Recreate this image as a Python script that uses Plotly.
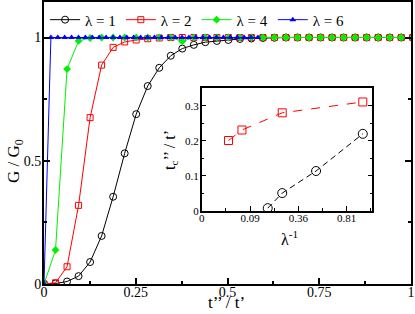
import plotly.graph_objects as go

# ---------------- data ----------------
step_main = 0.0314          # sampling of t''/t' for lambda = 1, 2, 4
step_blue = 0.0188          # sampling of t''/t' for lambda = 6
t_main = [round(k * step_main, 4) for k in range(33)]
t_blue = [round(k * step_blue, 4) for k in range(32)]

g_l1 = [0, 0.002, 0.010, 0.032, 0.089, 0.195, 0.354, 0.530, 0.689, 0.803,
        0.877, 0.926, 0.955, 0.970, 0.981, 0.986, 0.990, 0.994, 0.996, 0.998,
        0.999, 1, 1, 1, 1, 1, 1, 1, 1, 1, 1, 1, 1]
g_l2 = [0, 0.005, 0.070, 0.319, 0.675, 0.888, 0.960, 0.982, 0.990, 0.995,
        0.998, 1, 1, 1, 1, 1, 1, 1, 1, 1, 1, 1, 1, 1, 1, 1, 1, 1, 1, 1, 1, 1, 1]
g_l4 = [0, 0.138, 0.872, 0.986, 0.998, 1, 1, 1, 1, 1, 1, 1, 0.984, 1, 1, 1,
        1, 1, 1, 1, 1, 1, 1, 1, 1, 1, 1, 1, 1, 1, 1, 1, 1]
g_l6 = [0] + [1] * 31

legend_names = ["λ = 1", "λ = 2", "λ = 4", "λ = 6"]

# inset
inv_lambda = [1/6, 1/4, 1/2, 1.0]
tc_red = [0.201, 0.231, 0.280, 0.311]
x_black = [0.41, 0.50, 0.71, 1.0]
tc_black = [0.008, 0.051, 0.114, 0.220]

main_xticks = [0, 0.25, 0.5, 0.75, 1]
main_xtext = ["0", "0.25", "0.5", "0.75", "1"]
main_yticks = [0, 0.5, 1]
main_ytext = ["0", "0.5", "1"]
inset_xticks = [0, 0.3, 0.6, 0.9]
inset_xtext = ["0", "0.09", "0.36", "0.81"]
inset_yticks = [0, 0.1, 0.2, 0.3]
inset_ytext = ["0", "0.1", "0.2", "0.3"]

FONT = "Liberation Serif"
GREEN = "#00f000"


def f(size):
    return dict(family=FONT, size=size, color="black")


fig = go.Figure()
fig.add_trace(go.Scatter(x=t_main, y=g_l1, name=legend_names[0], mode="lines+markers",
                         line=dict(color="black", width=1),
                         marker=dict(symbol="circle-open", size=7, color="black", line=dict(width=1))))
fig.add_trace(go.Scatter(x=t_main, y=g_l2, name=legend_names[1], mode="lines+markers",
                         line=dict(color="#ff0000", width=1),
                         marker=dict(symbol="square-open", size=6, color="#ff0000", line=dict(width=1))))
fig.add_trace(go.Scatter(x=t_main, y=g_l4, name=legend_names[2], mode="lines+markers",
                         line=dict(color=GREEN, width=1),
                         marker=dict(symbol="diamond", size=6, color=GREEN)))
fig.add_trace(go.Scatter(x=t_blue, y=g_l6, name=legend_names[3], mode="lines+markers",
                         line=dict(color="#0000ff", width=1),
                         marker=dict(symbol="triangle-up", size=6, color="#0000ff")))

fig.add_trace(go.Scatter(x=inv_lambda, y=tc_red, xaxis="x2", yaxis="y2", showlegend=False,
                         mode="lines+markers", line=dict(color="#ff0000", width=1, dash="dash"),
                         marker=dict(symbol="square-open", size=8, color="#ff0000", line=dict(width=1))))
fig.add_trace(go.Scatter(x=x_black, y=tc_black, xaxis="x2", yaxis="y2", showlegend=False,
                         mode="lines+markers", line=dict(color="black", width=1, dash="6px,4px"),
                         marker=dict(symbol="circle-open", size=9, color="black", line=dict(width=1))))

axis_common = dict(showline=True, linecolor="black", ticks="inside", tickcolor="black",
                   showgrid=False, zeroline=False, automargin=False)

annotations = [
    dict(text="t’’ / t’", x=0.4986, y=-30 / 282, xref="paper", yref="paper",
         showarrow=False, font=f(17), xanchor="center", yanchor="bottom"),
    dict(text="G / G<sub>0</sub>", x=-0.079, y=0.436, xref="paper", yref="paper",
         showarrow=False, font=f(17), textangle=-90, xanchor="center", yanchor="middle"),
    dict(text="λ<sup>-1</sup>", x=0.670, y=0.163, xref="paper", yref="paper",
         showarrow=False, font=f(16), xanchor="center", yanchor="middle"),
    dict(text="t<sub>c</sub>’’ / t’", x=0.343, y=0.475, xref="paper", yref="paper",
         showarrow=False, font=f(16), textangle=-90, xanchor="center", yanchor="middle"),
]

fig.update_layout(
    width=415, height=314,
    margin=dict(l=44, r=4, t=2, b=30),
    paper_bgcolor="white", plot_bgcolor="white",
    font=f(14),
    xaxis=dict(**axis_common, range=[0, 1], linewidth=2, mirror=True, ticklen=6, tickwidth=1.5,
               tickvals=main_xticks, ticktext=main_xtext, tickfont=f(14), ticklabelstandoff=-6,
               minor=dict(ticks="inside", dtick=0.125, ticklen=3, tickcolor="black")),
    yaxis=dict(**axis_common, range=[0, 1.144], linewidth=2, mirror="ticks", ticklen=6, tickwidth=1.5,
               tickvals=main_yticks, ticktext=main_ytext, tickfont=f(14), ticklabelstandoff=-2,
               minor=dict(ticks="inside", dtick=0.25, ticklen=3, tickcolor="black")),
    xaxis2=dict(**axis_common, domain=[0.4296, 0.895], anchor="y2", range=[0, 1.06],
                linewidth=1.5, mirror=True, ticklen=5, tickvals=inset_xticks, ticktext=inset_xtext,
                tickfont=f(11), ticklabelstandoff=-4,
                minor=dict(ticks="inside", dtick=0.15, ticklen=3, tickcolor="black")),
    yaxis2=dict(**axis_common, domain=[0.259, 0.694], anchor="x2", range=[0, 0.35],
                linewidth=1.5, mirror="ticks", ticklen=5, tickvals=inset_yticks, ticktext=inset_ytext,
                tickfont=f(11), ticklabelstandoff=-1,
                minor=dict(ticks="inside", dtick=0.05, ticklen=3, tickcolor="black")),
    legend=dict(orientation="h", x=0.003, y=0.995, xanchor="left", yanchor="top",
                font=f(15), bgcolor="rgba(0,0,0,0)", itemwidth=30, tracegroupgap=0),
    annotations=annotations,
    showlegend=True,
)

fig.write_html("out.html", config={"displayModeBar": False},
               post_script="document.body.style.margin='0';document.body.style.padding='0';")
